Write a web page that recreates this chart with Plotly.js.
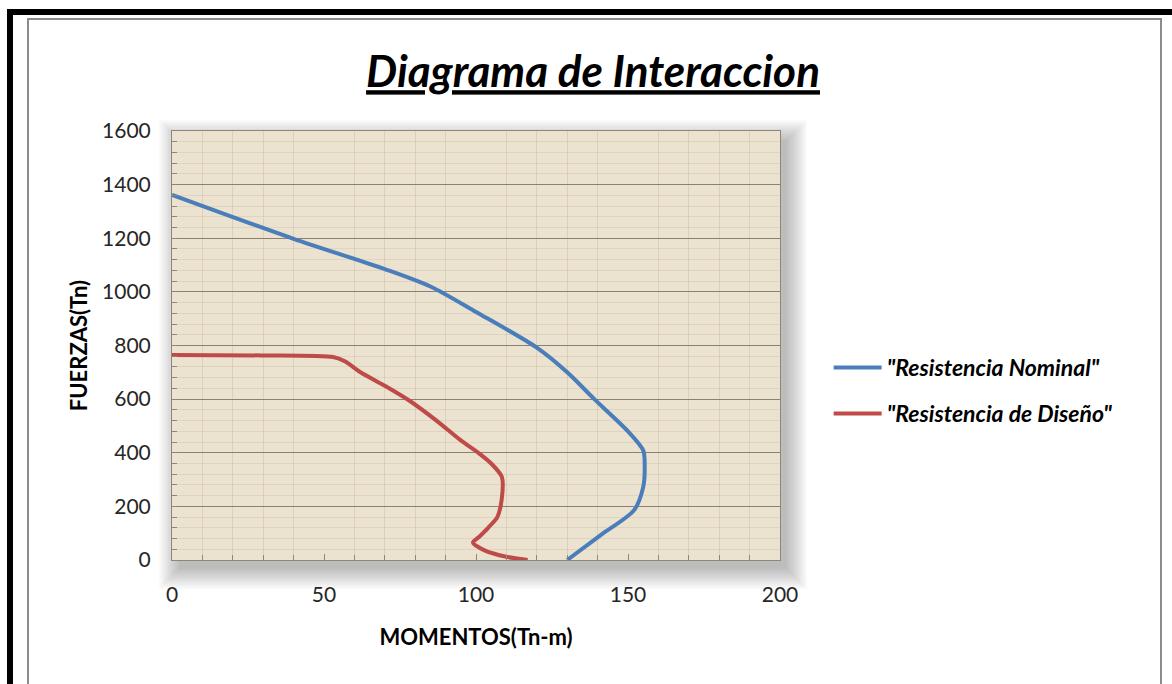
<!DOCTYPE html>
<html>
<head>
<meta charset="utf-8">
<script src="https://cdn.plot.ly/plotly-3.0.1.min.js"></script>
<style>
    html, body { margin: 0; padding: 0; background: #ffffff; }
    #wrap { position: relative; width: 1172px; height: 684px; overflow: hidden; }
    #bar-top { position: absolute; left: 7px; top: 9px; width: 1165px; height: 6px; background: #000; }
    #bar-left { position: absolute; left: 7px; top: 9px; width: 6px; height: 675px; background: #000; }
    #frame { position: absolute; left: 27px; top: 18px; width: 1131px; height: 664px; border: 2px solid #8c8c8c; }
    #chart { position: absolute; left: 0; top: 0; width: 1172px; height: 684px; }
</style>
</head>
<body>
<div id="wrap">
    <div id="bar-top"></div>
    <div id="bar-left"></div>
    <div id="frame"></div>
    <div id="chart"></div>
</div>
<script>
    // Curva nominal (momento Tn-m, fuerza Tn)
    const nominalM = [0, 40, 70, 85, 100, 120, 130, 139, 150, 155, 155.5, 155, 152, 141, 130];
    const nominalP = [1362, 1198, 1085, 1020, 925, 792, 700, 599, 480, 409, 350, 272, 186, 93, 0];

    // Curva de diseño
    const disenoM = [0, 30, 53, 57, 62, 70, 78, 87, 95, 101, 105, 108.5, 108.5, 107, 104, 101, 99, 103, 110, 117];
    const disenoP = [765, 763, 757, 740, 700, 650, 595, 520, 446, 398, 360, 310, 230, 160, 120, 86, 65, 35, 12, 0];

    const seriesNames = ['"Resistencia Nominal"', '"Resistencia de Diseño"'];
    const seriesColors = ['#4a7ebb', '#be4b48'];

    const FONT = 'Lato, "Open Sans", sans-serif';
    const M = { l: 172, r: 392, t: 131, b: 124 };
    const W = 1172 - M.l - M.r;
    const H = 684 - M.t - M.b;

    // soft drop shadow (bottom-right) behind the plot area, then the beige background
    const shapes = [];
    for (let i = 0; i < 10; i++) {
        const s = 1 + i * 2.2;
        shapes.push({
            type: 'rect', xref: 'paper', yref: 'paper', layer: 'below',
            x0: (8 - s) / W, x1: 1 + (6 + s) / W,
            y0: -(8 + s) / H, y1: 1 - (10 - s) / H,
            fillcolor: 'rgba(0,0,0,0.028)', line: { width: 0 }
        });
    }
    shapes.push({
        type: 'rect', xref: 'paper', yref: 'paper', layer: 'below',
        x0: 0, x1: 1, y0: 0, y1: 1,
        fillcolor: '#ebe2cf', line: { width: 0 }
    });

    const traces = [
        {
            x: nominalM, y: nominalP, type: 'scatter', mode: 'lines',
            name: seriesNames[0], legendgroup: 'a',
            line: { color: seriesColors[0], width: 4, shape: 'spline', smoothing: 0.8 },
            hoverinfo: 'x+y'
        },
        {
            x: disenoM, y: disenoP, type: 'scatter', mode: 'lines',
            name: seriesNames[1], legendgroup: 'b',
            line: { color: seriesColors[1], width: 4, shape: 'spline', smoothing: 0.7 },
            hoverinfo: 'x+y'
        }
    ];

    const layout = {
        width: 1172,
        height: 684,
        margin: M,
        paper_bgcolor: 'rgba(0,0,0,0)',
        plot_bgcolor: 'rgba(0,0,0,0)',
        font: { family: FONT, size: 20, color: '#262626' },
        title: {
            text: '<u><b><i>Diagrama de Interaccion</i></b></u>',
            font: { family: FONT, size: 44, color: '#000' },
            x: 0.506, xanchor: 'center',
            y: 0.895, yanchor: 'middle'
        },
        xaxis: {
            range: [0, 200], dtick: 50, fixedrange: true,
            showgrid: false, zeroline: false,
            showline: true, mirror: true, linecolor: '#8f8677', linewidth: 1,
            ticks: 'inside', ticklen: 6, tickcolor: '#8f8677',
            ticklabelstandoff: 16,
            tickfont: { family: FONT, size: 21, color: '#262626' },
            minor: { dtick: 10, ticks: 'inside', ticklen: 5, tickcolor: '#8f8677',
                     showgrid: true, gridcolor: 'rgba(175,160,135,0.28)', gridwidth: 1 },
            title: { text: '<b>MOMENTOS(Tn-m)</b>', standoff: 24,
                     font: { family: FONT, size: 22, color: '#000' } }
        },
        yaxis: {
            range: [0, 1600], dtick: 200, fixedrange: true,
            showgrid: true, gridcolor: '#8a8170', gridwidth: 1, zeroline: false,
            showline: true, mirror: true, linecolor: '#8f8677', linewidth: 1,
            ticks: 'inside', ticklen: 6, tickcolor: '#8f8677',
            ticklabelstandoff: 16,
            tickfont: { family: FONT, size: 21, color: '#262626' },
            minor: { dtick: 40, ticks: 'inside', ticklen: 5, tickcolor: '#8f8677',
                     showgrid: true, gridcolor: 'rgba(175,160,135,0.2)', gridwidth: 1 },
            title: { text: '<b>FUERZAS(Tn)</b>', standoff: 8,
                     font: { family: FONT, size: 22, color: '#000' } }
        },
        legend: {
            x: 1.08, xanchor: 'left',
            y: 0.395, yanchor: 'middle',
            bgcolor: 'rgba(0,0,0,0)',
            tracegroupgap: 13,
            itemwidth: 48,
            font: { family: FONT, size: 23, color: '#000', weight: 'bold', style: 'italic' }
        },
        shapes: shapes,
        showlegend: true
    };

    Plotly.newPlot('chart', traces, layout, { displayModeBar: false, staticPlot: true });
</script>
</body>
</html>
